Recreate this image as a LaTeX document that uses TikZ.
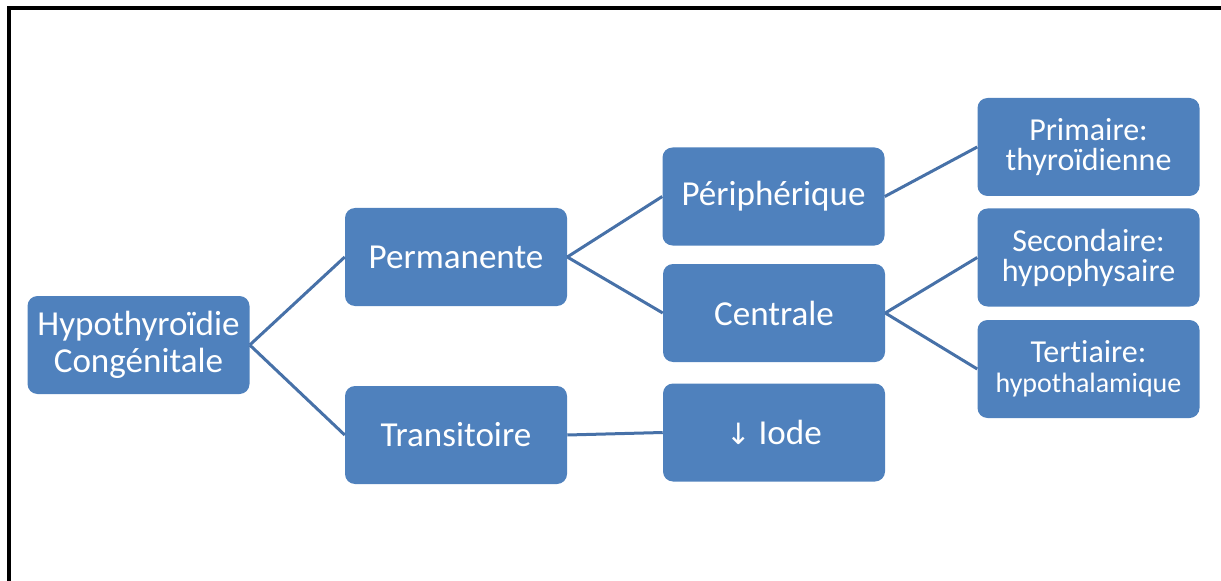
\documentclass[tikz,border=0pt]{standalone}
\usepackage{fontspec}
\setmainfont{Carlito}[Ligatures=NoCommon]
\newfontfamily\arrowfont{DejaVu Sans}
\definecolor{boxblue}{HTML}{4F81BD}
\definecolor{lineblue}{HTML}{4771A8}
\tikzset{
  box/.style={rectangle, rounded corners=7.5pt, fill=boxblue, text=white,
    minimum width=166.5pt, minimum height=73.5pt, inner sep=0pt, align=center,
    font=\fontsize{26.3}{27.8}\selectfont},
  rbox/.style={box, font=\fontsize{24}{22.5}\selectfont},
  link/.style={draw=lineblue, line width=2.25pt}
}
\begin{document}
\begin{tikzpicture}[x=0.75pt,y=-0.75pt]
\useasboundingbox (0,0) rectangle (1221,581);
% frame (top and left only)
\draw[line width=3pt] (9,581) -- (9,8) -- (1221,8);
\node[box] (hypo) at (138.5,345) {Hypothyroïdie\\Congénitale};
\node[box] (perm) at (456,257) {Permanente};
\node[box] (trans) at (456,435) {Transitoire};
\node[box] (peri) at (773.5,196.5) {Périphérique};
\node[box] (cent) at (774,313) {Centrale};
\node[box] (iode) at (774,432.5) {{\arrowfont\fontsize{22}{24}\selectfont↓} Iode};
\node[rbox] (prim) at (1088.5,147) {Primaire:\\thyroïdienne};
\node[rbox] (sec) at (1088.5,257.5) {Secondaire:\\hypophysaire};
\node[rbox] (tert) at (1088.5,369) {Tertiaire:\\{\fontsize{21}{21}\selectfont hypothalamique}};
\draw[link] (hypo.east) -- (perm.west);
\draw[link] (hypo.east) -- (trans.west);
\draw[link] (perm.east) -- (peri.west);
\draw[link] (perm.east) -- (cent.west);
\draw[link] (trans.east) -- (iode.west);
\draw[link] (peri.east) -- (prim.west);
\draw[link] (cent.east) -- (sec.west);
\draw[link] (cent.east) -- (tert.west);
\end{tikzpicture}
\end{document}
